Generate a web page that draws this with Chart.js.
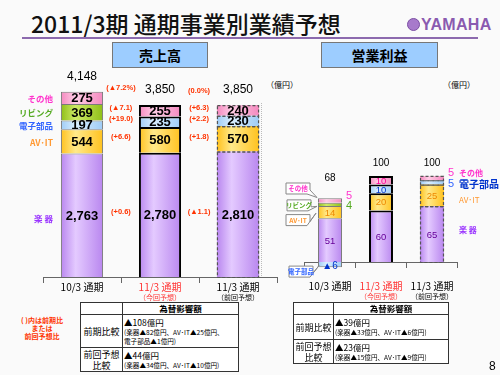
<!DOCTYPE html>
<html lang="ja">
<head>
<meta charset="utf-8">
<title>2011/3期 通期事業別業績予想</title>
<script src="https://cdn.jsdelivr.net/npm/chart.js@4.4.1/dist/chart.umd.min.js"></script>
<style>
  body { margin: 0; background: #fafafa; font-family: 'Noto Sans CJK JP', sans-serif; }
  #page { position: relative; width: 500px; height: 375px; overflow: hidden; }
  .abs { position: absolute; white-space: nowrap; }
  #title { left: 31px; top: 8px; font-size: 23px; line-height: 30px; color: #111; font-weight: 500; }
  #rule { left: 22px; top: 37px; width: 456px; height: 2px; background: #8c6aae; }
  #logo { left: 407px; top: 16px; font: bold 16px 'Liberation Sans Narrow', 'Liberation Sans', sans-serif; color: #8a5ab0; letter-spacing: 0.3px; }
  #logo span { display: inline-block; width: 11px; height: 11px; border-radius: 50%; background: #a77acb; border: 1px solid #7c4fa4; vertical-align: -1px; margin-right: 1px; }
  .head { top: 42px; height: 24px; line-height: 24px; background: #9dcdff; border: 1px solid #777; text-align: center; font-size: 14px; font-weight: bold; }
  .unit { font-size: 8px; top: 79px; }
  #note { left: 16px; top: 316px; width: 52px; text-align: center; color: #ff3300; font-size: 7px; font-weight: bold; line-height: 8px; }
  #pageno { left: 489px; top: 359px; font: 12px 'Liberation Sans', sans-serif; }
  #frame { left: 261px; top: 103px; width: 15px; height: 174px; border-left: 1px dotted #bbb; border-bottom: 1px dotted #bbb; }
  table.fx { position: absolute; border-collapse: collapse; table-layout: fixed; background: #fff; font-size: 8.5px; border: 1.5px solid #333; }
  table.fx td { border: 1px solid #333; padding: 0 1px; line-height: 11px; vertical-align: middle; white-space: nowrap; overflow: hidden; }
  table.fx td.k { text-align: center; font-size: 9px; line-height: 11px; }
  table.fx td.h { text-align: center; font-size: 8.5px; font-weight: bold; }
  table.fx .d { font-size: 6.6px; line-height: 9px; }
</style>
</head>
<body>
<div id="page">
  <div id="title" class="abs">2011/3期 通期事業別業績予想</div>
  <div id="rule" class="abs"></div>
  <div id="logo" class="abs"><span></span>YAMAHA</div>
  <div class="abs head" style="left:112px;width:94px">売上高</div>
  <div class="abs head" style="left:321px;width:115px">営業利益</div>
  <div class="abs unit" style="left:266px">（億円）</div>
  <div class="abs unit" style="left:443px">（億円）</div>
  <div id="frame" class="abs"></div>

  <canvas id="salesChart" class="abs" width="290" height="250" style="left:0;top:60px"></canvas>
  <canvas id="opChart" class="abs" width="240" height="250" style="left:260px;top:60px"></canvas>

  <div id="note" class="abs">( )内は前期比<br>または<br>前回予想比</div>

  <table class="fx" style="left:80px;top:302px;width:158px">
    <colgroup><col style="width:42px"><col style="width:116px"></colgroup>
    <tr style="height:11px"><td></td><td class="h">為替影響額</td></tr>
    <tr style="height:33px"><td class="k">前期比較</td><td>▲108億円<div class="d">(楽器▲82億円、AV･IT▲25億円、<br>電子部品▲1億円)</div></td></tr>
    <tr style="height:24px"><td class="k">前回予想<br>比較</td><td>▲44億円<div class="d">(楽器▲34億円、AV･IT▲10億円)</div></td></tr>
  </table>
  <table class="fx" style="left:293px;top:302px;width:155px">
    <colgroup><col style="width:40px"><col style="width:115px"></colgroup>
    <tr style="height:11px"><td></td><td class="h">為替影響額</td></tr>
    <tr style="height:25px"><td class="k">前期比較</td><td>▲39億円<div class="d">(楽器▲33億円、AV･IT▲6億円)</div></td></tr>
    <tr style="height:24px"><td class="k">前回予想<br>比較</td><td>▲23億円<div class="d">(楽器▲15億円、AV･IT▲9億円)</div></td></tr>
  </table>

  <div id="pageno" class="abs">8</div>
</div>

<script>
// periods and segments
const periods = ['10/3 通期', '11/3 通期', '11/3 通期'];
const periodNotes = ['', '（今回予想）', '（前回予想）'];
const segments = ['楽 器', 'AV･IT', '電子部品', 'リビング', 'その他'];

// net sales (億円)
const salesInstruments = [2763, 2780, 2810];
const salesAvIt = [544, 580, 570];
const salesElectronics = [197, 235, 230];
const salesLiving = [369, 0, 0];
const salesOthers = [275, 255, 240];
const salesTotals = [4148, 3850, 3850];
const salesVsPrevYear = ['(+0.6)', '(+6.6)', '(+19.0)', '', '(▲7.1)'];
const salesVsPrevForecast = ['(▲1.1)', '(+1.8)', '(+2.2)', '', '(+6.3)'];
const salesTotalVsPrevYear = '(▲7.2%)';
const salesTotalVsPrevForecast = '(0.0%)';

// operating income (億円)
const opInstruments = [51, 60, 65];
const opAvIt = [14, 20, 25];
const opElectronics = [-6, 10, 5];
const opLiving = [4, 0, 0];
const opOthers = [5, 10, 5];
const opTotals = [68, 100, 100];

// styles
const fillLight = ['#e4caff', '#ffe98a', '#d9eeff', '#cdea66', '#ffcde6'];
const fillDark = ['#b987ef', '#ffc21f', '#9fccf6', '#8fbf18', '#f489bf'];
const nameColors = ['#9933ff', '#ff9933', '#3366ff', '#55aa22', '#ff33cc'];
const opTextColors = ['#660099', '#ee8800', '#0033cc', '#339933', '#ff0099'];
const periodColors = ['#000', '#ff3333', '#000'];
const JP = '"Noto Sans CJK JP"';
const NUM = '"Liberation Sans"';

function shade(di, bw) {
    return function (c) {
        const chart = c.chart;
        if (!chart.chartArea) return fillDark[di];
        const xs = chart.scales.x;
        const cx = xs.getPixelForValue(c.dataIndex);
        const half = xs.width / chart.data.labels.length * bw / 2;
        const g = chart.ctx.createLinearGradient(cx - half, 0, cx + half, 0);
        g.addColorStop(0, fillDark[di]);
        g.addColorStop(0.35, fillLight[di]);
        g.addColorStop(1, fillDark[di]);
        return g;
    };
}

function makeDatasets(series, bw) {
    return series.map((data, di) => ({
        label: segments[di],
        data: data,
        backgroundColor: shade(di, bw),
        borderColor: ['#7a7a7a', '#000', 'rgba(0,0,0,0)'],
        borderWidth: [1, 2, 0]
    }));
}

function seg(chart, di, j) {
    const el = chart.getDatasetMeta(di).data[j];
    const top = Math.min(el.y, el.base), bot = Math.max(el.y, el.base);
    return { x: el.x, left: el.x - el.width / 2, right: el.x + el.width / 2, top: top, bot: bot, mid: (top + bot) / 2, h: bot - top };
}

function stackTop(chart, j) {
    let top = Infinity;
    chart.data.datasets.forEach((ds, di) => { if (ds.data[j] > 0) top = Math.min(top, seg(chart, di, j).top); });
    return top;
}

function txt(ctx, s, x, y, font, color, align) {
    ctx.font = font;
    ctx.fillStyle = color;
    ctx.textAlign = align || 'center';
    ctx.textBaseline = 'middle';
    ctx.fillText(s, x, y);
}

function dashedStack(chart, j) {
    const ctx = chart.ctx;
    ctx.save();
    ctx.setLineDash([3, 2]);
    ctx.strokeStyle = '#555';
    ctx.lineWidth = 1.2;
    chart.data.datasets.forEach((ds, di) => {
        if (!ds.data[j]) return;
        const s = seg(chart, di, j);
        ctx.strokeRect(s.left + 0.5, s.top + 0.5, s.right - s.left - 1, s.h);
    });
    ctx.restore();
}

function periodLabels(chart, dy) {
    const xs = chart.scales.x;
    const base = chart.scales.y.getPixelForValue(0);
    periods.forEach((p, j) => {
        const x = xs.getPixelForValue(j);
        txt(chart.ctx, p, x, base + dy, '10px ' + JP, periodColors[j]);
        if (periodNotes[j]) txt(chart.ctx, periodNotes[j], x, base + dy + 10, '7px ' + JP, periodColors[j]);
    });
}

const salesText = {
    id: 'salesText',
    afterDatasetsDraw(chart) {
        const ctx = chart.ctx;
        dashedStack(chart, 2);
        chart.data.datasets.forEach((ds, di) => {
            ds.data.forEach((v, j) => {
                if (!v) return;
                const s = seg(chart, di, j);
                txt(ctx, v.toLocaleString('en-US'), s.x, s.mid + 1, 'bold 13px ' + NUM, '#000');
            });
            const first = seg(chart, di, 0);
            txt(ctx, segments[di], first.left - 8, first.mid + (di === 0 ? 3 : 1), 'bold 8.5px ' + JP, nameColors[di], 'right');
            const cur = seg(chart, di, 1);
            if (salesVsPrevYear[di]) txt(ctx, salesVsPrevYear[di], cur.left - 18, cur.mid - 3, 'bold 7.5px ' + NUM, '#ff3300');
            if (salesVsPrevForecast[di]) txt(ctx, salesVsPrevForecast[di], cur.right + 18, cur.mid - 3, 'bold 7.5px ' + NUM, '#ff3300');
        });
        salesTotals.forEach((t, j) => {
            txt(ctx, t.toLocaleString('en-US'), chart.scales.x.getPixelForValue(j), stackTop(chart, j) - 15, '12px ' + NUM, '#000');
        });
        const cur = seg(chart, 0, 1);
        const ty = stackTop(chart, 1) - 15;
        txt(ctx, salesTotalVsPrevYear, cur.left - 18, ty - 2, 'bold 7.5px ' + NUM, '#ff3300');
        txt(ctx, salesTotalVsPrevForecast, cur.right + 18, ty + 1, 'bold 7.5px ' + NUM, '#ff3300');
        periodLabels(chart, 10);
    }
};

function callout(ctx, label, color, right, cy, tipX, tipY) {
    ctx.save();
    const w = 24, h = 11, left = right - w, top = cy - h / 2;
    ctx.fillStyle = '#fff';
    ctx.strokeStyle = '#888';
    ctx.lineWidth = 1;
    ctx.beginPath();
    ctx.moveTo(left, top);
    ctx.lineTo(right, top);
    ctx.lineTo(right, top + h - 4);
    ctx.lineTo(tipX, tipY);
    ctx.lineTo(right - 3, top + h);
    ctx.lineTo(left, top + h);
    ctx.closePath();
    ctx.fill();
    ctx.stroke();
    ctx.restore();
    txt(ctx, label, left + w / 2, cy, 'bold 6.5px ' + JP, color);
}

const opText = {
    id: 'opText',
    afterDatasetsDraw(chart) {
        const ctx = chart.ctx;
        dashedStack(chart, 2);
        chart.data.datasets.forEach((ds, di) => {
            ds.data.forEach((v, j) => {
                if (!v) return;
                const s = seg(chart, di, j);
                if (v < 0) {
                    txt(ctx, '▲' + (-v), s.x, s.mid + 2, '10px ' + NUM, '#0033cc');
                } else if (v >= 10) {
                    txt(ctx, String(v), s.x, s.mid + 1, '9.5px ' + NUM, opTextColors[di]);
                } else {
                    txt(ctx, String(v), s.right + 4, s.mid + (di === 4 ? -5 : 2), '11px ' + NUM, nameColors[di], 'left');
                }
            });
        });
        opTotals.forEach((t, j) => {
            txt(ctx, String(t), chart.scales.x.getPixelForValue(j), stackTop(chart, j) - (j === 0 ? 20 : 13), '10px ' + NUM, '#000');
        });
        // names next to the previous forecast bar
        const nx = seg(chart, 0, 2).right + 15;
        txt(ctx, segments[4], nx, seg(chart, 4, 2).mid - 5, 'bold 8px ' + JP, nameColors[4], 'left');
        txt(ctx, segments[2], nx, seg(chart, 2, 2).mid + 2, 'bold 10px ' + JP, '#0033cc', 'left');
        txt(ctx, segments[1], nx, seg(chart, 1, 2).mid + 5, '8px ' + JP, nameColors[1], 'left');
        txt(ctx, segments[0], nx, seg(chart, 0, 2).mid - 4, 'bold 8px ' + JP, nameColors[0], 'left');
        // callouts on the prior year bar
        const r = seg(chart, 0, 0).left - 8;
        const o = seg(chart, 4, 0), l = seg(chart, 3, 0), a = seg(chart, 1, 0), e = seg(chart, 2, 0);
        callout(ctx, segments[4], '#ff33cc', r, o.mid - 12, r + 7, o.mid - 3);
        callout(ctx, segments[3], '#55aa22', r + 1, l.mid + 1, r + 7, l.mid + 2);
        callout(ctx, segments[1], '#ff9933', r, a.mid + 8, r + 6, a.mid + 1);
        callout(ctx, segments[2], '#3366ff', r + 3, e.mid + 7, r + 9, e.mid + 1);
        periodLabels(chart, 24);
    }
};

const axisX = {
    stacked: true,
    position: { y: 0 },
    grid: { drawOnChartArea: false, tickLength: 5, color: '#666' },
    border: { color: '#666' },
    ticks: { display: false }
};

const salesChart = new Chart(document.getElementById('salesChart'), {
    type: 'bar',
    data: {
        labels: periods,
        datasets: makeDatasets([salesInstruments, salesAvIt, salesElectronics, salesLiving, salesOthers], 0.54)
    },
    options: {
        responsive: false,
        animation: false,
        barPercentage: 0.54,
        categoryPercentage: 1,
        layout: { padding: { left: 43, right: 13, top: 16, bottom: 33 } },
        plugins: { legend: { display: false }, tooltip: { enabled: false } },
        scales: {
            x: axisX,
            y: { stacked: true, display: false, min: 0, max: 4500 }
        }
    },
    plugins: [salesText]
});

const opChart = new Chart(document.getElementById('opChart'), {
    type: 'bar',
    data: {
        labels: periods,
        datasets: makeDatasets([opInstruments, opAvIt, opElectronics, opLiving, opOthers], 0.47)
    },
    options: {
        responsive: false,
        animation: false,
        barPercentage: 0.47,
        categoryPercentage: 1,
        layout: { padding: { left: 44.5, right: 42.5, top: 102.2, bottom: 41.1 } },
        plugins: { legend: { display: false }, tooltip: { enabled: false } },
        scales: {
            x: axisX,
            y: { stacked: true, display: false, min: -8, max: 116 }
        }
    },
    plugins: [opText]
});
</script>
</body>
</html>
